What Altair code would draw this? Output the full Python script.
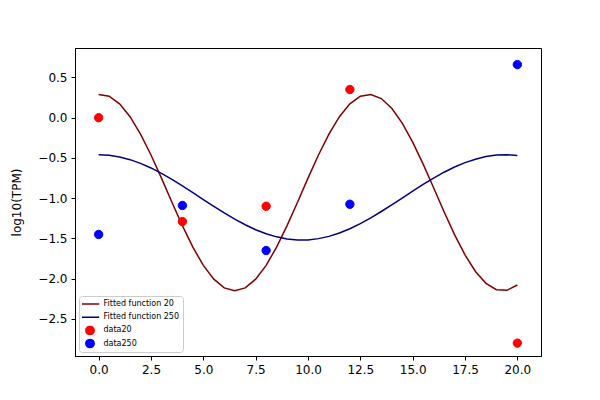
import altair as alt
import pandas as pd

# curve sample positions
x_fit = [0.0, 0.5, 1.0, 1.5, 2.0, 2.5, 3.0, 3.5, 4.0, 4.5, 5.0, 5.5, 6.0, 6.5, 7.0,
         7.5, 8.0, 8.5, 9.0, 9.5, 10.0, 10.5, 11.0, 11.5, 12.0, 12.5, 13.0, 13.5,
         14.0, 14.5, 15.0, 15.5, 16.0, 16.5, 17.0, 17.5, 18.0, 18.5, 19.0, 19.5, 20.0]

fit20 = [0.288, 0.267, 0.173, 0.013, -0.204, -0.463, -0.751, -1.050, -1.341, -1.608,
         -1.834, -2.006, -2.114, -2.150, -2.114, -2.006, -1.834, -1.608, -1.341, -1.050,
         -0.751, -0.463, -0.204, 0.013, 0.173, 0.267, 0.288, 0.238, 0.117, -0.067,
         -0.303, -0.576, -0.870, -1.168, -1.452, -1.703, -1.910, -2.057, -2.137, -2.144,
         -2.078]

fit250 = [-0.460, -0.467, -0.488, -0.521, -0.567, -0.624, -0.691, -0.766, -0.846, -0.930,
          -1.016, -1.101, -1.183, -1.260, -1.330, -1.391, -1.441, -1.480, -1.507, -1.519,
          -1.518, -1.502, -1.474, -1.432, -1.379, -1.316, -1.244, -1.165, -1.084, -0.999,
          -0.913, -0.829, -0.750, -0.677, -0.612, -0.558, -0.515, -0.483, -0.464, -0.460,
          -0.470]

x_data = [0, 4, 8, 12, 20]
data20 = [0.0, -1.29, -1.10, 0.35, -2.80]
data250 = [-1.45, -1.09, -1.65, -1.075, 0.66]

series_names = ["Fitted function 20", "Fitted function 250", "data20", "data250"]
series_colors = ["#800000", "#000080", "#ff0000", "#0000ff"]
line_glyph = "M-2.2,0H2.2"
series_shapes = [line_glyph, line_glyph, "circle", "circle"]

x_ticks = [0, 2.5, 5, 7.5, 10, 12.5, 15, 17.5, 20]
y_ticks = [-2.5, -2.0, -1.5, -1.0, -0.5, 0.0, 0.5]

lines_df = pd.concat([
    pd.DataFrame({"x": x_fit, "y": fit20, "series": series_names[0]}),
    pd.DataFrame({"x": x_fit, "y": fit250, "series": series_names[1]}),
])
points_df = pd.concat([
    pd.DataFrame({"x": x_data, "y": data20, "series": series_names[2]}),
    pd.DataFrame({"x": x_data, "y": data250, "series": series_names[3]}),
])

legend = alt.Legend(
    title=None, orient="bottom-left", offset=4, padding=3,
    fillColor="white", strokeColor="#cccccc", cornerRadius=3,
    labelFont="DejaVu Sans", labelFontSize=8, labelColor="black",
    symbolSize=70, symbolOffset=3, rowPadding=3.2, symbolStrokeWidth=1.5,
    labelOffset=8.5, clipHeight=10,
)

color_scale = alt.Scale(domain=series_names, range=series_colors)
shape_scale = alt.Scale(domain=series_names, range=series_shapes)

xenc = alt.X("x:Q", scale=alt.Scale(domain=[-1.13, 21.13], nice=False, zero=False),
             axis=alt.Axis(values=x_ticks, format=".1f", title=None))
yenc = alt.Y("y:Q", scale=alt.Scale(domain=[-2.96, 0.866], nice=False, zero=False),
             axis=alt.Axis(values=y_ticks, format=".1f", title="log10(TPM)"))

lines = alt.Chart(lines_df).mark_line(strokeWidth=1.5).encode(
    x=xenc, y=yenc,
    stroke=alt.Stroke("series:N", scale=color_scale, legend=legend),
    detail="series:N",
)

points = alt.Chart(points_df).mark_point(filled=True, size=70, strokeWidth=1, opacity=1).encode(
    x=xenc, y=yenc,
    fill=alt.Fill("series:N", scale=color_scale, legend=legend),
    stroke=alt.Stroke("series:N", scale=color_scale, legend=legend),
    shape=alt.Shape("series:N", scale=shape_scale, legend=legend),
)

chart = alt.layer(lines, points).properties(
    width=466, height=308,
    autosize=alt.AutoSizeParams(type="none"),
    padding={"left": 67, "top": 40, "right": 51, "bottom": 36},
).configure_view(
    stroke="black", strokeWidth=1
).configure_axis(
    grid=False, domainColor="black", domainWidth=1, tickColor="black", tickSize=4,
    labelFont="DejaVu Sans", labelFontSize=12, labelColor="black", labelPadding=4,
    titleFont="DejaVu Sans", titleFontSize=12, titleFontWeight="normal",
    titleColor="black", titlePadding=14,
)

chart.save("out.html", embed_options={"renderer": "svg", "actions": False})
